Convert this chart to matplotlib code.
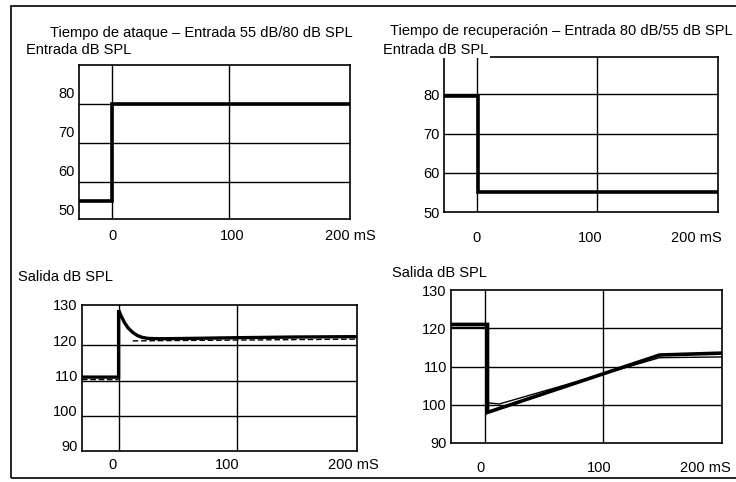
import numpy as np
import matplotlib
matplotlib.use("Agg")
import matplotlib.pyplot as plt
from matplotlib.patches import Rectangle

plt.rcParams['font.family'] = ['Liberation Sans', 'DejaVu Sans']
plt.rcParams['font.size'] = 10.5

# --- data (ms, dB SPL) ---
t_in_att = [-28, 0, 0, 202]
in_att = [52, 52, 77, 77]

t_in_rec = [-28, 1, 1, 201]
in_rec = [79.5, 79.5, 55, 55]

t_out_att = [-31, 0, 0, 2, 5, 8, 12, 16, 20, 25, 35, 60, 100, 150, 202]
out_att = [109.5, 109.5, 128.5, 127, 125, 123.5, 122.2, 121.3, 120.8, 120.5,
           120.4, 120.5, 120.7, 120.9, 121]
t_ref_att = [-31, 0, np.nan, 12, 202]
ref_att = [108.8, 108.8, np.nan, 119.8, 120.3]

t_out_rec = [-29, 2, 2, 148, 201]
out_rec = [121, 121, 98, 113, 113.5]
t_ref_rec = [-29, 2, 2, 12, 148, 201]
ref_rec = [120.2, 120.2, 100.5, 100.2, 112.3, 112.5]

x_grid = [0, 100]
x_labels = ['0', '100', '200 mS']
in_ticks = [50, 60, 70, 80]
out_ticks = [90, 100, 110, 120, 130]

W, H = 736, 482
fig = plt.figure(figsize=(W / 100, H / 100), dpi=100)


def px_axes(x0, y0, x1, y1):
    return fig.add_axes([x0 / W, 1 - y1 / H, (x1 - x0) / W, (y1 - y0) / H])


def setup(ax, xlim, ylim, yticks, grid_y, label_pos, xpad):
    ax.set_xlim(*xlim)
    ax.set_ylim(*ylim)
    # labels sit where the printed scale puts them (scan is a bit skewed)
    ax.set_xticks(label_pos)
    ax.set_xticklabels(x_labels)
    ax.set_yticks(yticks)
    ax.tick_params(length=0, pad=3)
    ax.tick_params(axis='x', pad=xpad)
    for v in x_grid:
        ax.axvline(v, color='black', lw=1.0, zorder=1)
    for v in grid_y:
        ax.axhline(v, color='black', lw=1.0, zorder=1)
    for s in ax.spines.values():
        s.set_linewidth(1.2)
    ax.patch.set_alpha(0)


# top left: attack input
ax1 = px_axes(79, 65, 350, 219)
setup(ax1, (-28, 202), (47.5, 87), in_ticks, [57, 67, 77], [1, 103, 204], 7)
ax1.plot(t_in_att, in_att, color='black', lw=2.6, solid_joinstyle='miter', zorder=3)

# top right: recovery input
ax2 = px_axes(444, 57, 718, 212)
setup(ax2, (-27.5, 201), (50, 89.5), in_ticks, [60, 70, 80], [0, 94, 183], 14)
ax2.plot(t_in_rec, in_rec, color='black', lw=2.6, solid_joinstyle='miter', zorder=3)

# bottom left: attack output
ax3 = px_axes(82, 305, 357, 451)
setup(ax3, (-31, 202), (88.5, 128.5), out_ticks, [98.5, 108.5, 118.5], [-5, 92, 199], 5)
ax3.plot(t_ref_att, ref_att, color='black', lw=1.0, ls=(0, (4, 2)), zorder=2)
ax3.plot(t_out_att, out_att, color='black', lw=2.4, solid_joinstyle='miter', zorder=3)

# bottom right: recovery output
ax4 = px_axes(451, 290, 722, 443)
setup(ax4, (-29, 201), (90, 130), out_ticks, [100, 110, 120], [-4, 97, 187], 13)
ax4.plot(t_ref_rec, ref_rec, color='black', lw=1.0, zorder=2)
ax4.plot(t_out_rec, out_rec, color='black', lw=2.6, solid_joinstyle='miter', zorder=3)

# texts
fig.text(50 / W, 1 - 33 / H, 'Tiempo de ataque – Entrada 55 dB/80 dB SPL', va='center')
fig.text(26 / W, 1 - 50 / H, 'Entrada dB SPL', va='center')
fig.text(390 / W, 1 - 31 / H, 'Tiempo de recuperación – Entrada 80 dB/55 dB SPL', va='center')
fig.text(383 / W, 1 - 50 / H, 'Entrada dB SPL', va='center',
         bbox=dict(facecolor='white', edgecolor='none', pad=1))
fig.text(18 / W, 1 - 277 / H, 'Salida dB SPL', va='center')
fig.text(392 / W, 1 - 273 / H, 'Salida dB SPL', va='center')

# outer frame
fig.patches.append(Rectangle((11 / W, 1 - 478 / H), 740 / W, 472 / H,
                             transform=fig.transFigure, fill=False,
                             edgecolor='black', lw=1.2))

fig.savefig('out.png', dpi=100)
